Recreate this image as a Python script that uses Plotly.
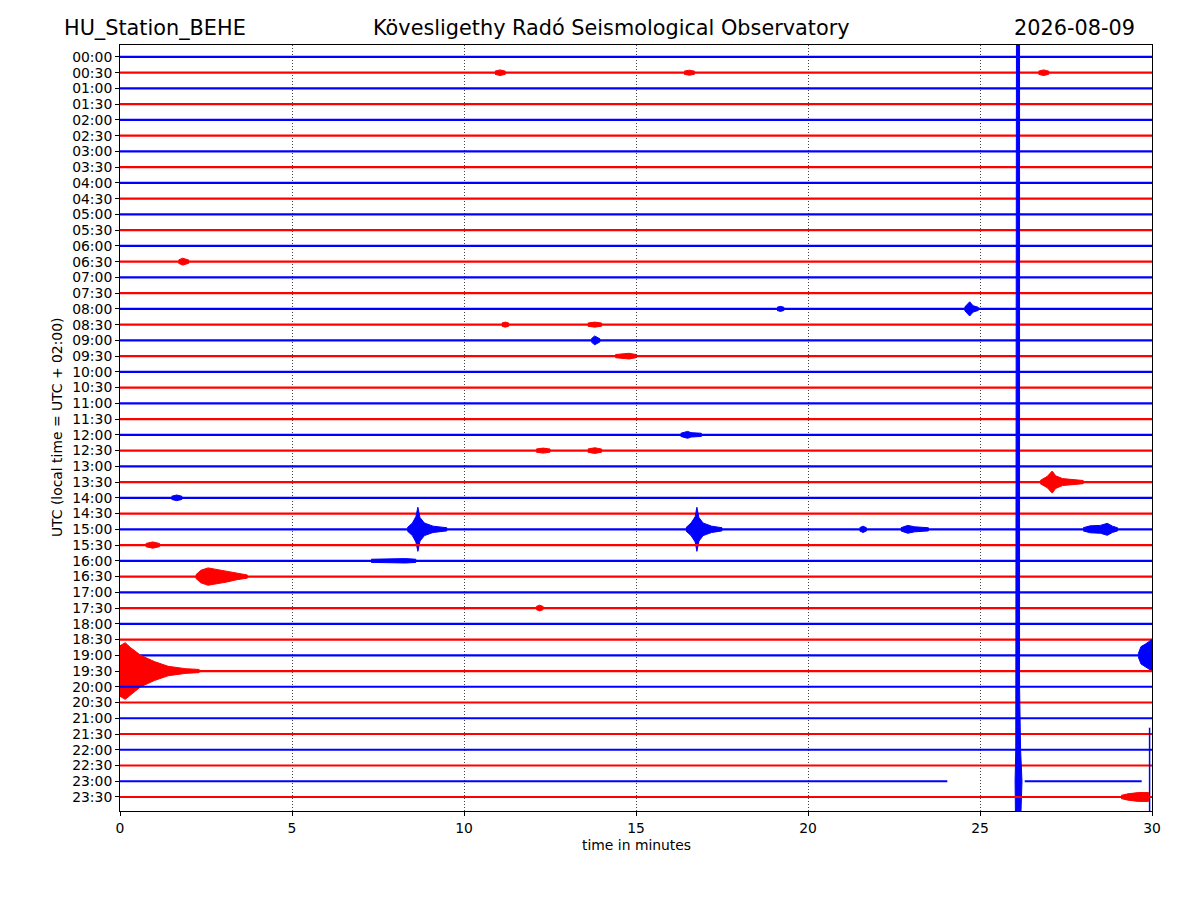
import plotly.graph_objects as go

# helicorder rows, top to bottom (UTC start of each 30 minute line)
row_labels = ["00:00", "00:30", "01:00", "01:30", "02:00", "02:30", "03:00", "03:30",
              "04:00", "04:30", "05:00", "05:30", "06:00", "06:30", "07:00", "07:30",
              "08:00", "08:30", "09:00", "09:30", "10:00", "10:30", "11:00", "11:30",
              "12:00", "12:30", "13:00", "13:30", "14:00", "14:30", "15:00", "15:30",
              "16:00", "16:30", "17:00", "17:30", "18:00", "18:30", "19:00", "19:30",
              "20:00", "20:30", "21:00", "21:30", "22:00", "22:30", "23:00", "23:30"]
row_colors = ["blue", "red"]

# recorded data segments per row (minutes); row 46 (23:00) has a gap
seg_row = list(range(46)) + [46, 46, 47]
seg_start = [0.0] * 46 + [0.0, 26.3, 0.0]
seg_end = [30.0] * 46 + [24.05, 29.7, 30.0]

# events: row, envelope times (min), half amplitude (rows)
ev_row = [1, 1, 1, 13, 16, 16, 17, 17, 18, 19, 24, 25, 25, 27, 28,
          30, 30, 30, 30, 30, 31, 32, 33, 35, 38, 39, 47]
ev_t = [
    [10.9, 11.05, 11.2],
    [16.4, 16.55, 16.7],
    [26.7, 26.85, 27.0],
    [1.7, 1.82, 2.0],
    [24.55, 24.7, 24.8, 24.95],
    [19.1, 19.2, 19.3],
    [11.1, 11.2, 11.3],
    [13.6, 13.8, 14.0],
    [13.7, 13.8, 13.95],
    [14.4, 14.8, 15.0],
    [16.3, 16.5, 16.6, 16.9],
    [12.1, 12.3, 12.5],
    [13.6, 13.8, 14.0],
    [26.75, 26.95, 27.1, 27.2, 27.4, 27.7, 28.0],
    [1.5, 1.65, 1.8],
    [8.35, 8.5, 8.6, 8.66, 8.72, 8.85, 9.1, 9.5],
    [16.45, 16.6, 16.72, 16.77, 16.83, 16.95, 17.2, 17.5],
    [21.5, 21.6, 21.7],
    [22.7, 22.9, 23.1, 23.5],
    [28.0, 28.2, 28.5, 28.7, 28.85, 29.0],
    [0.75, 0.95, 1.15],
    [7.3, 7.8, 8.3, 8.6],
    [2.2, 2.35, 2.56, 2.8, 3.1, 3.4, 3.7],
    [12.1, 12.2, 12.3],
    [29.6, 29.68, 29.8, 29.9, 30.0],
    [0.0, 0.15, 0.3, 0.6, 1.0, 1.4, 1.9, 2.3],
    [29.1, 29.3, 29.6, 29.9],
]
ev_amp = [
    [0.1, 0.18, 0.1],
    [0.1, 0.16, 0.1],
    [0.1, 0.18, 0.1],
    [0.1, 0.22, 0.1],
    [0.1, 0.45, 0.2, 0.1],
    [0.1, 0.16, 0.1],
    [0.1, 0.16, 0.1],
    [0.1, 0.16, 0.1],
    [0.1, 0.28, 0.1],
    [0.1, 0.18, 0.1],
    [0.1, 0.22, 0.14, 0.1],
    [0.1, 0.16, 0.1],
    [0.1, 0.18, 0.1],
    [0.1, 0.35, 0.7, 0.4, 0.22, 0.15, 0.1],
    [0.1, 0.18, 0.1],
    [0.1, 0.4, 0.8, 1.4, 0.75, 0.4, 0.2, 0.1],
    [0.1, 0.4, 0.8, 1.4, 0.75, 0.4, 0.2, 0.1],
    [0.1, 0.2, 0.1],
    [0.1, 0.25, 0.16, 0.1],
    [0.1, 0.22, 0.25, 0.38, 0.2, 0.1],
    [0.1, 0.2, 0.1],
    [0.1, 0.14, 0.14, 0.1],
    [0.1, 0.4, 0.55, 0.45, 0.35, 0.2, 0.1],
    [0.1, 0.18, 0.1],
    [0.1, 0.55, 0.7, 0.85, 1.0],
    [1.6, 1.8, 1.5, 1.0, 0.6, 0.3, 0.15, 0.1],
    [0.1, 0.2, 0.28, 0.28],
]

# large clipped arrival on the 23:00 line (x edges vs row position)
spike_rows = [-1.0, 40.0, 44.0, 46.0, 48.0]
spike_left = [26.06, 26.06, 26.04, 26.02, 26.03]
spike_right = [26.15, 26.15, 26.18, 26.22, 26.19]
spike2_t = 29.93
spike2_rows = [42.6, 48.0]

fig = go.Figure()

def add_events(r, col):
    for i, er in enumerate(ev_row):
        if er != r:
            continue
        t = ev_t[i]
        a = ev_amp[i]
        xs = t + t[::-1]
        ys = [r - v for v in a] + [r + v for v in a[::-1]]
        fig.add_trace(go.Scatter(x=xs, y=ys, mode="lines", fill="toself",
                                 fillcolor=col, line=dict(color=col, width=1),
                                 hoverinfo="skip", showlegend=False))

for r in range(len(row_labels)):
    col = row_colors[r % 2]
    for k, sr in enumerate(seg_row):
        if sr == r:
            fig.add_trace(go.Scatter(x=[seg_start[k], seg_end[k]], y=[r, r], mode="lines",
                                     line=dict(color=col, width=2.2),
                                     hoverinfo="skip", showlegend=False))
    add_events(r, col)
    if r == 46:
        fig.add_trace(go.Scatter(x=spike_left + spike_right[::-1],
                                 y=spike_rows + spike_rows[::-1],
                                 mode="lines", fill="toself", fillcolor=col,
                                 line=dict(color=col, width=1),
                                 hoverinfo="skip", showlegend=False))
        fig.add_trace(go.Scatter(x=[spike2_t, spike2_t], y=spike2_rows, mode="lines",
                                 line=dict(color=col, width=1.5),
                                 hoverinfo="skip", showlegend=False))

font = "DejaVu Sans, Arial, sans-serif"
fig.update_layout(
    width=1200, height=900,
    margin=dict(l=112, r=56, t=37, b=97),
    paper_bgcolor="white", plot_bgcolor="white",
    font=dict(family=font, size=14, color="black"),
    xaxis=dict(range=[0, 30], tickvals=[0, 5, 10, 15, 20, 25, 30],
               showgrid=True, gridcolor="#444444", griddash="1px,2px", gridwidth=0.8,
               zeroline=False, showline=True, linecolor="black", linewidth=1,
               mirror=True, ticks="outside", ticklen=4, tickcolor="black",
               tickfont=dict(size=13.9), automargin=False),
    yaxis=dict(range=[47.89, -0.76], tickvals=list(range(len(row_labels))),
               ticktext=row_labels, showgrid=False, zeroline=False,
               showline=True, linecolor="black", linewidth=1, mirror=True,
               ticks="outside", ticklen=4, tickcolor="black",
               tickfont=dict(size=13.9), automargin=False),
    annotations=[
        dict(text="HU_Station_BEHE", x=-0.0563, y=1.022, xref="paper", yref="paper",
             xanchor="left", yanchor="middle", showarrow=False, font=dict(size=20.8)),
        dict(text="Kövesligethy Radó Seismological Observatory", x=0.4758, y=1.022,
             xref="paper", yref="paper", xanchor="center", yanchor="middle",
             showarrow=False, font=dict(size=20.8)),
        dict(text="2026-08-09", x=0.9855, y=1.022, xref="paper", yref="paper",
             xanchor="right", yanchor="middle", showarrow=False, font=dict(size=20.8)),
        dict(text="time in minutes", x=0.5, y=-0.0444, xref="paper", yref="paper",
             xanchor="center", yanchor="middle", showarrow=False, font=dict(size=13.9)),
        dict(text="UTC (local time = UTC + 02:00)", x=-0.061, y=0.5, xref="paper",
             yref="paper", xanchor="center", yanchor="middle", textangle=-90,
             showarrow=False, font=dict(size=13.9)),
    ],
)

fig.write_html("out.html")
